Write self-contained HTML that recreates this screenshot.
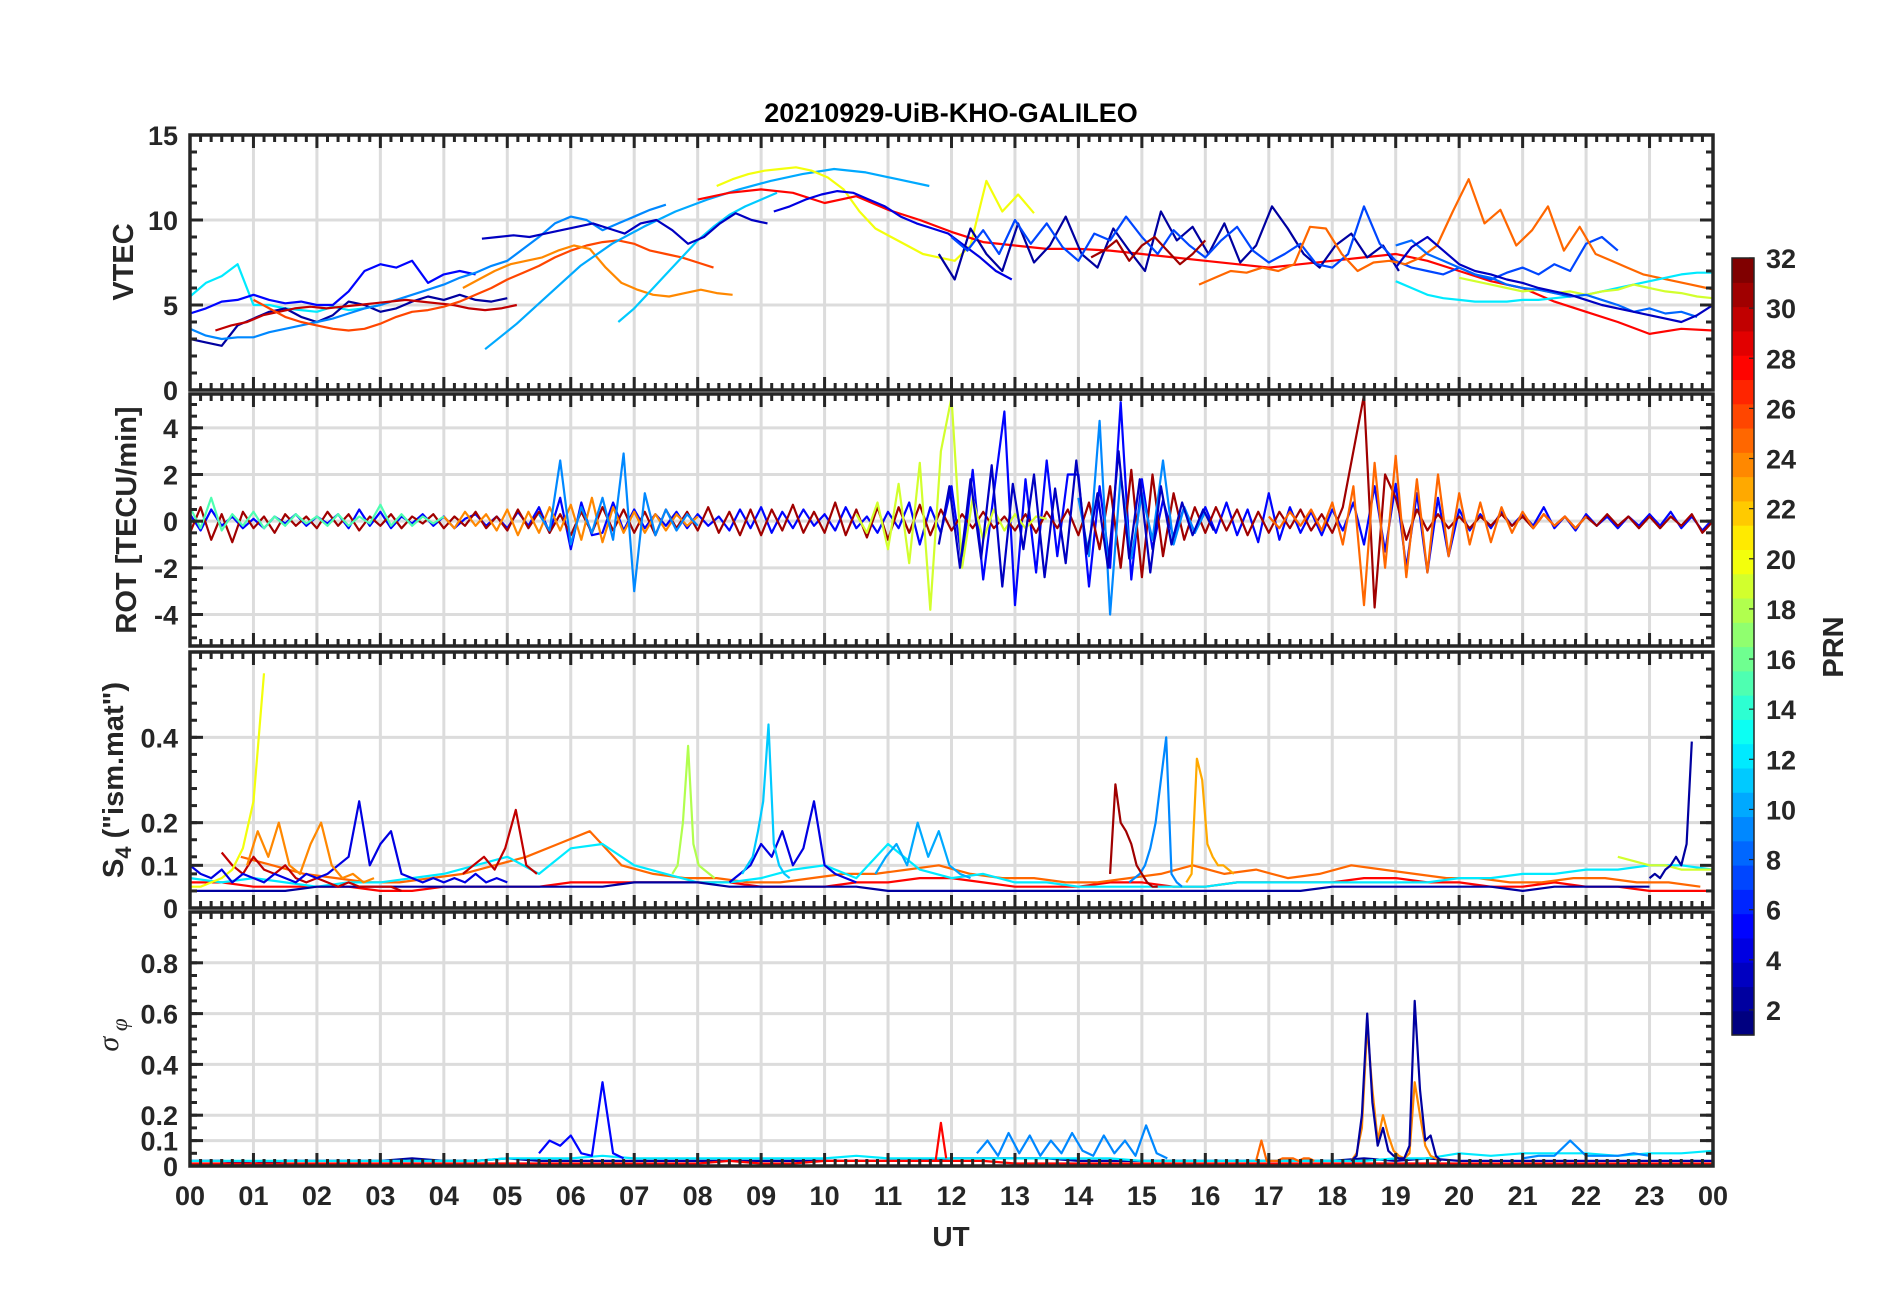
<!DOCTYPE html>
<html><head><meta charset="utf-8"><title>20210929-UiB-KHO-GALILEO</title>
<style>
html,body{margin:0;padding:0;background:#fff;}
svg{display:block;font-family:"Liberation Sans",sans-serif;}
</style></head>
<body>
<svg id="chart" width="1902" height="1292" viewBox="0 0 1902 1292" xmlns="http://www.w3.org/2000/svg">
<rect x="0" y="0" width="1902" height="1292" fill="#fff"/>
<text x="951" y="122" text-anchor="middle" font-size="27" font-weight="bold" fill="#000">20210929-UiB-KHO-GALILEO</text>
<g id="panels"></g>
<g id="cbar"></g>
<text x="951" y="1246" text-anchor="middle" font-size="28" font-weight="bold" fill="#262626">UT</text>
</svg>
<script>
// ---------- data ----------
const hourLabels = ["00","01","02","03","04","05","06","07","08","09","10","11","12","13","14","15","16","17","18","19","20","21","22","23","00"];
const cbarTicks = [2,4,6,8,10,12,14,16,18,20,22,24,26,28,30,32];

// VTEC panel
const vtecPrns = [12,2,5,9,30,26,24,11,10,20,28,4,2,7,31,25,12,19,8,3,3];
const vtecStarts = [0,0,0,0,0.4,1.0,4.3,6.75,4.65,8.3,8.0,9.2,11.8,12.0,14.2,15.9,19.0,20.0,19.0,19.0,4.6];
const vtecSteps = [0.25,0.25,0.25,0.25,0.25,0.25,0.25,0.25,0.5,0.25,0.5,0.25,0.25,0.25,0.2,0.25,0.25,0.25,0.25,0.25,0.25];
const vtecValues = [
 [5.5,6.3,6.7,7.4,5.0,5.0,4.8,4.7,4.6,4.9,4.7,4.8,5.0],
 [3.0,2.8,2.6,3.8,4.2,4.6,4.8,4.3,4.0,4.4,5.2,5.0,4.6,4.8,5.2,5.5,5.3,5.6,5.3,5.2,5.4],
 [4.5,4.8,5.2,5.3,5.6,5.3,5.1,5.2,5.0,5.0,5.8,7.0,7.4,7.2,7.6,6.3,6.8,7.0,6.8],
 [3.6,3.2,3.0,3.1,3.1,3.4,3.6,3.8,4.0,4.2,4.5,4.8,5.0,5.3,5.6,5.9,6.2,6.6,6.9,7.3,7.6,8.3,9.0,9.8,10.2,10.0,9.4,9.8,10.2,10.6,10.9],
 [3.5,3.8,4.0,4.4,4.6,4.8,4.9,4.8,4.9,5.0,5.1,5.2,5.3,5.2,5.1,5.0,4.8,4.7,4.8,5.0],
 [5.3,4.8,4.3,4.0,3.8,3.6,3.5,3.6,3.9,4.3,4.6,4.7,4.9,5.2,5.6,6.0,6.5,6.9,7.3,7.8,8.2,8.5,8.7,8.8,8.6,8.2,8.0,7.8,7.5,7.2],
 [6.0,6.5,7.0,7.4,7.6,7.8,8.2,8.5,8.3,7.2,6.3,5.9,5.6,5.5,5.7,5.9,5.7,5.6],
 [4.0,4.8,5.8,6.8,7.8,8.8,9.6,10.3,10.8,11.2,11.6],
 [2.4,3.9,5.6,7.3,8.6,9.6,10.5,11.2,11.8,12.3,12.7,13.0,12.8,12.4,12.0],
 [12.0,12.4,12.7,12.9,13.0,13.1,12.9,12.5,11.8,10.5,9.5,9.0,8.5,8.0,7.8,7.6,8.5,12.3,10.5,11.5,10.4],
 [11.2,11.6,11.8,11.6,11.0,11.4,10.6,10.0,9.3,8.7,8.5,8.3,8.3,8.2,8.0,7.8,7.6,7.4,7.2,7.4,7.6,7.8,8.0,7.6,7.0,6.4,6.0,5.2,4.6,4.0,3.3,3.6,3.5],
 [10.5,10.8,11.2,11.5,11.7,11.6,11.2,10.8,10.2,9.8,9.5,9.2,8.5,7.8,7.0,6.5],
 [8.0,6.5,9.5,8.0,7.0,9.8,7.5,8.5,10.2,8.0,7.2,9.5,8.2,7.0,10.5,8.8,9.6,8.0,9.8,7.5,8.5,10.8,9.5,8.0,7.2,8.5,9.2,7.8,8.5,7.0],
 [9.0,8.2,9.4,8.0,10.0,8.6,9.8,8.4,7.6,9.2,8.8,10.2,9.0,8.0,9.4,8.5,7.8,8.8,9.6,8.2,7.5,8.0,8.6,7.4,7.2,8.0,10.8,8.6,7.6,7.2,7.0,6.8,7.2,6.8,6.5,6.9,7.2,6.8,7.4,7.0,8.6,9.0,8.2],
 [7.8,8.2,8.8,7.6,8.5,9.0,8.2,7.4,8.0,8.8],
 [6.2,6.6,7.0,6.9,7.2,7.0,7.4,9.6,9.5,8.0,7.0,7.5,7.6,7.4,7.8,8.5,10.5,12.4,9.8,10.6,8.5,9.4,10.8,8.2,9.6,8.0,7.6,7.2,6.8,6.6,6.4,6.2,6.0,5.8,5.6,5.9,5.5],
 [6.4,6.0,5.6,5.4,5.3,5.2,5.2,5.2,5.3,5.3,5.4,5.5,5.6,5.8,6.0,6.2,6.4,6.6,6.8,6.9,6.9],
 [6.6,6.4,6.2,6.0,5.8,5.9,5.7,5.8,5.6,5.8,5.9,6.2,6.0,5.8,5.7,5.5,5.4],
 [8.5,8.8,8.0,7.6,7.2,6.8,6.6,6.2,6.0,5.9,5.7,5.5,5.6,5.3,5.0,4.6,4.8,4.5,4.6,4.3],
 [7.2,8.4,9.0,8.2,7.4,7.0,6.8,6.5,6.3,6.0,5.8,5.6,5.3,5.0,4.8,4.6,4.4,4.2,4.0,4.4,5.0],
 [8.9,9.0,9.1,9.0,9.2,9.4,9.6,9.8,9.5,9.2,9.8,10.0,9.4,8.6,9.0,9.8,10.4,10.0,9.8]
];

// ROT panel
const rotPrns = [5,31,24,25,19,9,9,3,15];
const rotStarts = [0,0,4,17,10.5,5.5,14,11.8,0];
const rotSteps = [1/6,1/6,1/6,1/6,1/6,1/6,1/6,1/6,1/6];
const rotValues = [
 [0.3,-0.4,0.5,-0.2,0.2,-0.3, 0.1,-0.3,0.2,-0.1,0.3,-0.2, 0.2,-0.1,0.3,-0.3,0.5,-0.2, 0.4,-0.3,0.2,-0.1,0.3,-0.2, 0.2,-0.3,0.1,0.3,-0.2,0.2, -0.3,0.4,-0.2,0.6,-0.5,1.0, -1.2,0.8,-0.6,-0.5,0.8,-0.4, 0.5,-0.3,0.3,-0.2,0.4,-0.3, 0.3,-0.2,0.2,-0.4,0.5,-0.3, 0.6,-0.5,0.4,-0.3,0.5,-0.2, 0.3,-0.4,0.6,-0.3,0.2,-0.5, 0.4,-0.3,0.8,-1.0,0.6,-0.5, 1.5,-1.8,2.2,-2.5,1.2,4.7, -3.6,1.8,-2.2,2.6,-1.5,2.0, 2.0,-2.8,1.5,-2.0,5.1,-2.5, 1.8,-1.2,0.9,-0.7,0.6,-0.5, 0.6,-0.5,0.8,-0.6,0.5,-0.9, 1.2,-0.8,0.6,-0.5,0.4,-0.6, 0.5,-0.4,0.8,-1.0,1.5,-1.3, 1.6,-2.0,1.2,-2.2,1.0,-1.5, 0.5,-0.4,0.3,-0.3,0.4,-0.2, 0.3,-0.2,0.6,-0.3,0.2,-0.4, 0.3,-0.2,0.2,-0.3,0.2,-0.2, 0.3,-0.2,0.4,-0.3,0.2,-0.4, 0.1],
 [-0.5,0.6,-0.8,0.3,-0.9,0.4, -0.3,0.2,-0.5,0.3,-0.2,0.2, -0.3,0.4,-0.2,0.3,-0.4,0.2, -0.2,0.3,-0.3,0.2,-0.1,0.3, -0.3,0.2,-0.2,0.4,-0.3,0.2, -0.4,0.5,-0.3,0.4,-0.5,0.3, -0.6,0.4,-0.5,0.6,-0.4,0.5, -0.5,0.4,-0.6,0.5,-0.3,0.4, -0.4,0.6,-0.5,0.4,-0.6,0.5, -0.6,0.5,-0.4,0.7,-0.5,0.4, -0.5,0.8,-0.6,0.5,-0.7,0.6, -0.8,0.6,-0.5,0.7,-0.6,0.5, -0.4,0.3,-0.3,0.4,-0.3,0.2, -0.4,0.3,-0.5,0.4,-0.3,0.5, -0.6,0.8,-1.2,1.5,-2.0,2.2, -2.4,2.0,-1.5,1.2,-0.8,0.6, -0.5,0.6,-0.4,0.5,-0.6,0.4, -0.5,0.4,-0.3,0.5,-0.4,0.3, -0.5,0.6,3.0,5.4,-3.7,2.0, 1.0,-0.8,0.5,-0.4,0.3,-0.3, 0.2,-0.3,0.2,-0.2,0.3,-0.2, 0.2,-0.3,0.3,-0.2,0.2,-0.3, 0.2,-0.2,0.3,-0.2,0.2,-0.3, 0.2,-0.3,0.2,-0.2,0.3,-0.5, 0.0],
 [0.2,-0.3,0.4,-0.2,0.3,-0.4, 0.5,-0.6,0.4,-0.5,0.6,-0.4, 0.7,-0.8,1.0,-0.9,0.6,-0.5, 0.4,-0.5,0.3,-0.4,0.3,-0.2, 0.2],
 [0.2,-0.3,0.4,-0.2,0.5,-0.4, 0.8,-1.0,1.5,-3.6,2.5,-2.0, 2.8,-2.4,1.8,-2.2,2.0,-1.5, 1.2,-1.0,0.8,-0.9,0.6,-0.5, 0.4,-0.3,0.3,-0.2,0.2,-0.3, 0.2],
 [0.3,-0.5,0.8,-1.2,1.6,-1.8,2.5,-3.8,3.0,5.3,-2.0,1.0,-0.8,0.5,-0.4,0.3,-0.3,0.2,0.1],
 [0.3,-0.4,2.6,-1.0,0.6,-0.5,1.0,-0.8,2.9,-3.0,1.2,-0.6,0.5,-0.4,0.3,-0.2],
 [1.0,-1.5,4.3,-4.0,2.0,-1.6,1.2,-0.8,2.6,-1.0,0.6,-0.5,0.4],
 [-1.0,1.5,-2.0,1.8,-1.6,2.4,-2.8,1.6,-1.2,2.0,-2.4,1.4,-1.8,2.6,-1.4,1.2,-2.0,3.0,-1.6,1.8,-2.2,1.5,-1.0,0.8,-0.6,0.5,-0.4],
 [0.6,-0.3,1.0,-0.4,0.3,-0.2,0.4,-0.3,0.2,-0.2,0.3,-0.1,0.2,-0.2,0.3,-0.2,0.2,-0.1,0.7,-0.2,0.3,-0.2,0.2,-0.1,0.2]
];

// S4 panel
const s4Prns = [28,25,12,2,30,20,4,4,11,18,9,23,31,30,19,2,24,10];
const s4Starts = [0,0.8,0,0,0.5,0,0,8.5,8.7,7.6,14.8,15.7,14.5,4.3,22.5,23.0,0.9,10.8];
const s4Steps = [0.5,0.5,0.5,0.5,1/6,1/6,1/6,1/6,1/12,1/12,1/12,1/12,1/12,1/6,0.25,1/12,1/6,1/6];
const s4Values = [
 [0.06,0.06,0.05,0.05,0.05,0.05,0.04,0.04,0.05,0.05,0.05,0.05,0.06,0.06,0.06,0.06,0.06,0.06,0.05,0.05,0.05,0.06,0.06,0.07,0.07,0.06,0.05,0.05,0.05,0.06,0.06,0.05,0.05,0.06,0.06,0.06,0.06,0.07,0.07,0.06,0.06,0.05,0.05,0.06,0.05,0.05,0.04,0.04,0.04],
 [0.12,0.1,0.08,0.07,0.06,0.06,0.07,0.08,0.1,0.12,0.15,0.18,0.1,0.08,0.07,0.07,0.06,0.06,0.07,0.08,0.08,0.09,0.1,0.08,0.07,0.07,0.06,0.06,0.07,0.08,0.1,0.08,0.09,0.07,0.08,0.1,0.09,0.08,0.07,0.07,0.06,0.06,0.07,0.07,0.06,0.06,0.05],
 [0.07,0.06,0.07,0.06,0.05,0.06,0.06,0.07,0.08,0.1,0.12,0.08,0.14,0.15,0.1,0.08,0.06,0.06,0.07,0.09,0.1,0.07,0.15,0.09,0.07,0.08,0.06,0.06,0.05,0.05,0.05,0.05,0.05,0.06,0.06,0.06,0.06,0.06,0.06,0.06,0.07,0.07,0.08,0.08,0.09,0.09,0.1,0.1,0.09],
 [0.04,0.04,0.04,0.04,0.05,0.05,0.05,0.05,0.05,0.05,0.05,0.05,0.05,0.05,0.06,0.06,0.06,0.05,0.05,0.05,0.05,0.05,0.04,0.04,0.04,0.04,0.04,0.04,0.04,0.04,0.04,0.04,0.04,0.04,0.04,0.04,0.05,0.05,0.05,0.05,0.05,0.05,0.04,0.05,0.05,0.05,0.05],
 [0.13,0.1,0.08,0.12,0.09,0.08,0.1,0.07,0.06,0.07,0.06,0.05,0.06,0.05,0.05,0.05,0.05,0.04],
 [0.05,0.05,0.06,0.07,0.09,0.14,0.25,0.55],
 [0.1,0.08,0.07,0.09,0.06,0.08, 0.07,0.06,0.08,0.07,0.06,0.08, 0.07,0.08,0.1,0.12,0.25,0.1, 0.15,0.18,0.08,0.07,0.06,0.07, 0.06,0.07,0.06,0.08,0.06,0.07, 0.06],
 [0.06,0.08,0.1,0.15,0.12,0.18,0.1,0.14,0.25,0.1,0.08,0.07,0.06],
 [0.08,0.1,0.12,0.18,0.25,0.43,0.15,0.1,0.08,0.07],
 [0.08,0.1,0.2,0.38,0.15,0.1,0.09,0.08,0.07],
 [0.06,0.07,0.08,0.1,0.14,0.2,0.3,0.4,0.08,0.06,0.05],
 [0.06,0.08,0.35,0.3,0.15,0.12,0.1,0.1,0.09,0.08],
 [0.08,0.29,0.2,0.18,0.15,0.1,0.08,0.06,0.05,0.05],
 [0.08,0.1,0.12,0.09,0.14,0.23,0.1,0.08],
 [0.12,0.11,0.1,0.1,0.09,0.09,0.09],
 [0.07,0.08,0.07,0.09,0.1,0.12,0.1,0.15,0.39],
 [0.1,0.18,0.12,0.2,0.1,0.08,0.15,0.2,0.1,0.07,0.08,0.06,0.07],
 [0.08,0.12,0.15,0.1,0.2,0.12,0.18,0.1,0.08,0.07]
];

// sigma-phi panel
const spPrns = [2,28,12,5,9,24,2,25,9,28];
const spStarts = [0,0,0,5.5,12.4,18.3,18.3,16.8,21.0,11.75];
const spSteps = [0.5,0.5,0.5,1/6,1/6,1/12,1/12,1/12,0.25,1/12];
const spValues = [
 [0.02,0.02,0.01,0.02,0.02,0.02,0.02,0.03,0.02,0.02,0.03,0.02,0.02,0.02,0.02,0.02,0.02,0.02,0.02,0.02,0.02,0.02,0.02,0.02,0.03,0.03,0.03,0.03,0.02,0.02,0.02,0.02,0.02,0.02,0.02,0.02,0.02,0.03,0.02,0.03,0.02,0.02,0.02,0.02,0.02,0.02,0.02,0.02,0.02],
 [0.01,0.01,0.01,0.01,0.01,0.01,0.01,0.01,0.01,0.01,0.01,0.01,0.01,0.01,0.01,0.01,0.01,0.02,0.01,0.01,0.02,0.02,0.02,0.02,0.02,0.02,0.01,0.01,0.01,0.01,0.01,0.01,0.01,0.01,0.01,0.01,0.01,0.01,0.01,0.01,0.01,0.01,0.01,0.01,0.01,0.01,0.01,0.01,0.01],
 [0.02,0.02,0.02,0.02,0.02,0.02,0.02,0.02,0.02,0.02,0.03,0.03,0.03,0.04,0.03,0.03,0.03,0.03,0.03,0.03,0.03,0.04,0.03,0.03,0.03,0.03,0.03,0.03,0.03,0.03,0.02,0.02,0.02,0.02,0.02,0.02,0.02,0.02,0.03,0.03,0.05,0.04,0.05,0.05,0.05,0.04,0.05,0.05,0.06],
 [0.05,0.1,0.08,0.12,0.05,0.04,0.33,0.05,0.03],
 [0.05,0.1,0.04,0.13,0.05,0.12,0.04,0.1,0.05,0.13,0.06,0.04,0.12,0.05,0.1,0.04,0.16,0.05,0.03],
 [0.02,0.05,0.15,0.55,0.3,0.1,0.2,0.12,0.06,0.04,0.03,0.05,0.33,0.2,0.08,0.04,0.03,0.02],
 [0.02,0.04,0.2,0.6,0.25,0.08,0.15,0.06,0.04,0.03,0.03,0.08,0.65,0.3,0.1,0.12,0.04,0.02],
 [0.02,0.1,0.02,0.02,0.02,0.03,0.03,0.03,0.02,0.03,0.03,0.02],
 [0.03,0.04,0.04,0.1,0.04,0.04,0.04,0.05,0.04],
 [0.02,0.17,0.03]
];

// ---------- layout ----------
const X0 = 190, X1 = 1713, H0 = 0, H1 = 24;
const panels = [
 {name:'vtec', top:135, bottom:390, min:0, max:15, major:[0,5,10,15], labels:['0','5','10','15'], minor:1, prns:vtecPrns, starts:vtecStarts, steps:vtecSteps, vals:vtecValues},
 {name:'rot', top:394, bottom:646, min:-5.35, max:5.45, major:[-4,-2,0,2,4], labels:['-4','-2','0','2','4'], minor:0.5, prns:rotPrns, starts:rotStarts, steps:rotSteps, vals:rotValues},
 {name:'s4', top:652, bottom:908, min:0, max:0.6, major:[0,0.1,0.2,0.4], labels:['0','0.1','0.2','0.4'], minor:0.04, prns:s4Prns, starts:s4Starts, steps:s4Steps, vals:s4Values},
 {name:'sigma-phi', top:912, bottom:1166, min:0, max:1, major:[0,0.1,0.2,0.4,0.6,0.8], labels:['0','0.1','0.2','0.4','0.6','0.8'], minor:0.05, prns:spPrns, starts:spStarts, steps:spSteps, vals:spValues}
];
function xScale(h){ return X0 + (h - H0) / (H1 - H0) * (X1 - X0); }
function yScale(p, v){ return p.bottom - (v - p.min) / (p.max - p.min) * (p.bottom - p.top); }
function jet(prn){
  const v = (prn - 1) / 31;
  const c = t => Math.round(255 * Math.max(0, Math.min(1, t)));
  return `rgb(${c(1.5 - Math.abs(4*v - 3))},${c(1.5 - Math.abs(4*v - 2))},${c(1.5 - Math.abs(4*v - 1))})`;
}
const NS = 'http://www.w3.org/2000/svg';
function mk(tag, attrs, parent){ const e = document.createElementNS(NS, tag); for (const k in attrs) e.setAttribute(k, attrs[k]); parent.appendChild(e); return e; }

const root = document.getElementById('panels');
const axisCol = '#262626';
panels.forEach((p, pi) => {
  const g = mk('g', {}, root);
  
  
  const clipId = 'clip' + pi;
  const cp = mk('clipPath', {id: clipId}, g);
  mk('rect', {x: X0, y: p.top, width: X1 - X0, height: p.bottom - p.top}, cp);
  const grid = mk('g', {stroke: '#dcdcdc', 'stroke-width': 3}, g);
  
  
  for (let h = 1; h < 24; h++) mk('line', {x1: xScale(h), x2: xScale(h), y1: p.top, y2: p.bottom}, grid);
  p.major.forEach(v => { if (v > p.min && v < p.max) mk('line', {x1: X0, x2: X1, y1: yScale(p, v), y2: yScale(p, v)}, grid); });
  const sg = mk('g', {'clip-path': `url(#${clipId})`, fill: 'none', 'stroke-width': 2.2, 'stroke-linejoin': 'round'}, g);
  p.vals.forEach((arr, si) => {
    const pts = arr.map((v, i) => `${xScale(p.starts[si] + i * p.steps[si]).toFixed(1)},${yScale(p, v).toFixed(1)}`).join(' ');
    const pl = mk('polyline', {points: pts, stroke: jet(p.prns[si])}, sg);
    
    
  });
  const tk = mk('g', {stroke: axisCol, 'stroke-width': 3}, g);
  
  
  for (let m = 0; m <= 144; m++) {
    const x = xScale(m / 6), L = (m % 6 === 0) ? 13 : 7;
    mk('line', {x1: x, x2: x, y1: p.top, y2: p.top + L}, tk);
    mk('line', {x1: x, x2: x, y1: p.bottom, y2: p.bottom - L}, tk);
  }
  const nMin = Math.round((p.max - p.min) / p.minor) + 2;
  const first = Math.ceil(p.min / p.minor);
  for (let k = first; k < first + nMin; k++) {
    const v = k * p.minor; if (v > p.max) break;
    const y = yScale(p, v);
    mk('line', {x1: X0, x2: X0 + 7, y1: y, y2: y}, tk);
    mk('line', {x1: X1, x2: X1 - 7, y1: y, y2: y}, tk);
  }
  p.major.forEach(v => {
    const y = yScale(p, v);
    mk('line', {x1: X0, x2: X0 + 13, y1: y, y2: y}, tk);
    mk('line', {x1: X1, x2: X1 - 13, y1: y, y2: y}, tk);
  });
  const fr = mk('rect', {x: X0, y: p.top, width: X1 - X0, height: p.bottom - p.top, fill: 'none', stroke: axisCol, 'stroke-width': 3.5}, g);
  
  
  p.major.forEach((v, i) => {
    const t = mk('text', {x: X0 - 12, y: yScale(p, v) + 10, 'text-anchor': 'end', 'font-size': 27, 'font-weight': 'bold', fill: axisCol}, g);
    t.textContent = p.labels[i];
    
    
  });
});
const xl = mk('g', {}, root);


hourLabels.forEach((lab, i) => {
  const t = mk('text', {x: xScale(i), y: 1205, 'text-anchor': 'middle', 'font-size': 27, 'font-weight': 'bold', fill: axisCol}, xl);
  t.textContent = lab;
  
  
});
function ytitle(x, y, html, name){
  const t = mk('text', {x: x, y: y, transform: `rotate(-90 ${x} ${y})`, 'text-anchor': 'middle', 'font-size': 29, 'font-weight': 'bold', fill: axisCol}, root);
  t.innerHTML = html;
  
  
}
ytitle(133, 262, 'VTEC', 'vtec-axis-title');
ytitle(136, 520, 'ROT [TECU/min]', 'rot-axis-title');
ytitle(123, 780, 'S<tspan dy="8" font-size="22">4</tspan><tspan dy="-8"> ("ism.mat")</tspan>', 's4-axis-title');
const sig = mk('text', {x: 118, y: 1035, transform: 'rotate(-90 118 1035)', 'text-anchor': 'middle', 'font-size': 30, 'font-style': 'italic', fill: axisCol, 'font-family': 'Liberation Serif, serif'}, root);
sig.innerHTML = 'σ<tspan dy="9" font-size="23"> φ</tspan>';



const cb = document.getElementById('cbar');


const CB = {x: 1732, w: 22, top: 258, bottom: 1035, min: 1, max: 32};
function cbY(v){ return CB.bottom - (v - CB.min) / (CB.max - CB.min) * (CB.bottom - CB.top); }
for (let k = 0; k < 32; k++) {
  const v0 = CB.min + k * (CB.max - CB.min) / 32, v1 = CB.min + (k + 1) * (CB.max - CB.min) / 32;
  const r = mk('rect', {x: CB.x, y: cbY(v1), width: CB.w, height: cbY(v0) - cbY(v1) + 0.6, fill: jet(k + 1)}, cb);
  
  
}
mk('rect', {x: CB.x, y: CB.top, width: CB.w, height: CB.bottom - CB.top, fill: 'none', stroke: axisCol, 'stroke-width': 1.5}, cb);
cbarTicks.forEach(v => {
  mk('line', {x1: CB.x + CB.w - 5, x2: CB.x + CB.w, y1: cbY(v), y2: cbY(v), stroke: axisCol, 'stroke-width': 1.2}, cb);
  const t = mk('text', {x: 1766, y: cbY(v) + 10, 'font-size': 27, 'font-weight': 'bold', fill: axisCol}, cb);
  t.textContent = v;
  
  
});
const prn = mk('text', {x: 1843, y: 647, transform: 'rotate(-90 1843 647)', 'text-anchor': 'middle', 'font-size': 29, 'font-weight': 'bold', fill: axisCol}, cb);
prn.textContent = 'PRN';


</script>
</body></html>
